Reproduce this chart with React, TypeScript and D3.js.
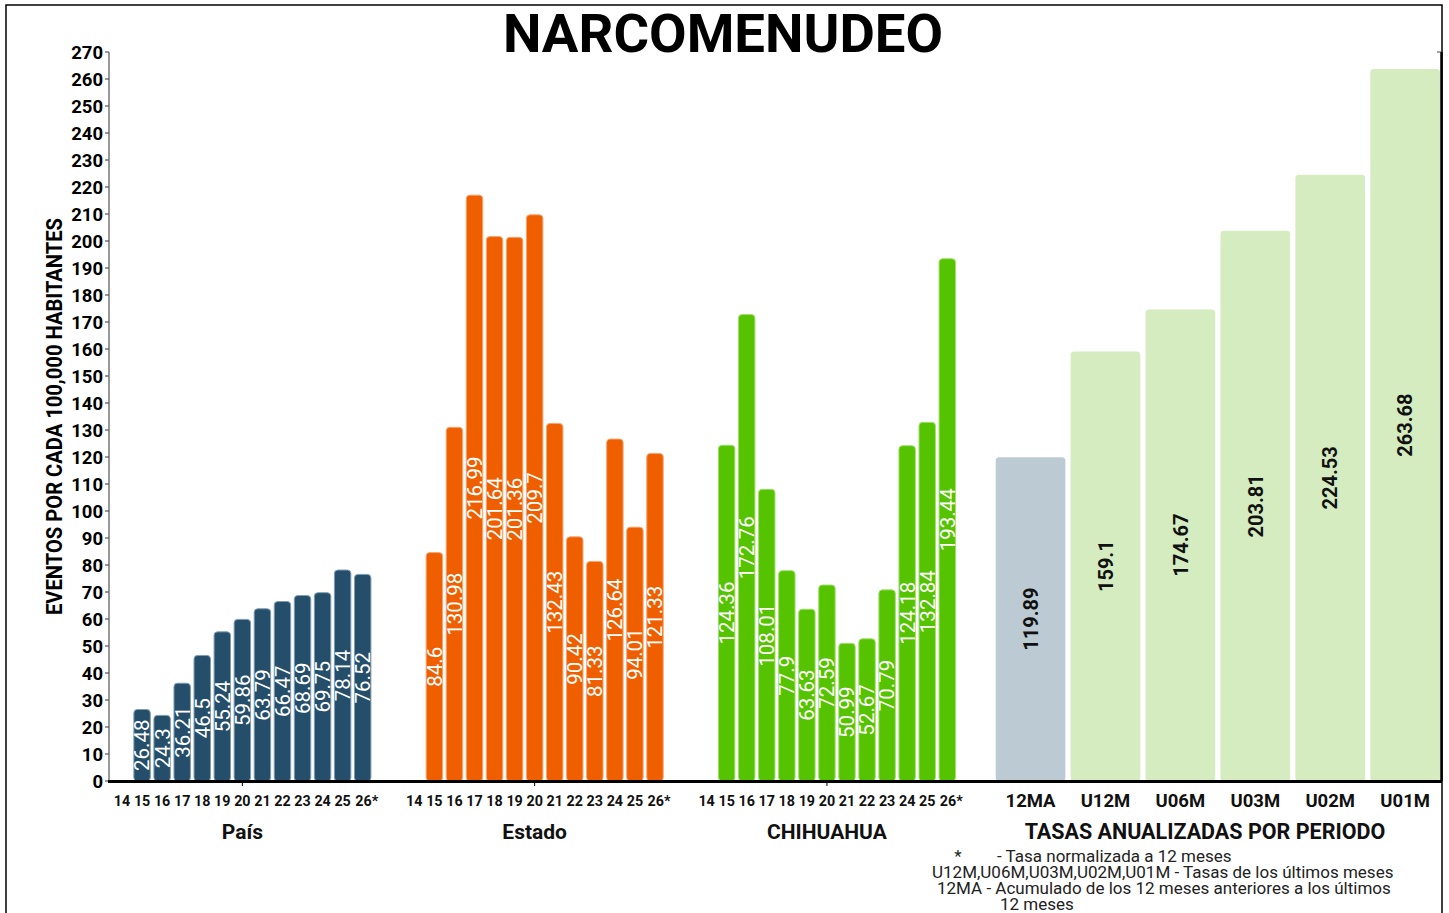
import React from "react";
import * as d3 from "d3";

const tickYears = ["14", "15", "16", "17", "18", "19", "20", "21", "22", "23", "24", "25", "26*"];
const barYears = ["15", "16", "17", "18", "19", "20", "21", "22", "23", "24", "25", "26*"];
const groups = ["País", "Estado", "CHIHUAHUA"];
const paisValues = [26.48, 24.3, 36.21, 46.5, 55.24, 59.86, 63.79, 66.47, 68.69, 69.75, 78.14, 76.52];
const estadoValues = [84.6, 130.98, 216.99, 201.64, 201.36, 209.7, 132.43, 90.42, 81.33, 126.64, 94.01, 121.33];
const chihuahuaValues = [124.36, 172.76, 108.01, 77.9, 63.63, 72.59, 50.99, 52.67, 70.79, 124.18, 132.84, 193.44];
const periodLabels = ["12MA", "U12M", "U06M", "U03M", "U02M", "U01M"];
const periodValues = [119.89, 159.1, 174.67, 203.81, 224.53, 263.68];
const yTicks = d3.range(0, 271, 10);

const groupColors = ["#254e6a", "#ef5f00", "#55c300"];
const groupStrokes = ["#7f9db3", "#f9a46d", "#a2e06c"];
const periodColors = ["#bccad3", "#d5ebc0", "#d5ebc0", "#d5ebc0", "#d5ebc0", "#d5ebc0"];

const W = 1449;
const H = 913;
const FONT = "Roboto, 'Liberation Sans', Arial, sans-serif";

export default function App() {
  const y = d3.scaleLinear().domain([0, 270]).range([781, 52]);
  const gx = d3.scaleBand<string>().domain(groups).range([112, 957.3]).paddingInner(0.108).paddingOuter(0);
  const inner = d3.scaleBand<string>().domain(tickYears).range([0, gx.bandwidth()]).paddingInner(0.18).paddingOuter(0.09);
  const px = d3.scaleBand<string>().domain(periodLabels).range([995.7, 1440]).paddingInner(0.07).paddingOuter(0);
  const series = [paisValues, estadoValues, chihuahuaValues];

  const labelX = (g: string, yr: string) => (gx(g) as number) + (inner(yr) as number) + inner.bandwidth() / 2;

  return (
    <svg width={W} height={H} style={{ position: "absolute", left: 0, top: 0, background: "#fff" }} fontFamily={FONT}>
      <rect x={6} y={5} width={1436} height={930} fill="none" stroke="#000" strokeWidth={1.5} />
      <text x={723} y={52} textAnchor="middle" fontSize={54.5} fontWeight={700} fill="#000">NARCOMENUDEO</text>

      {/* left axis */}
      <line x1={109} x2={109} y1={y(270)} y2={y(0)} stroke="#555" strokeWidth={1.2} />
      {yTicks.map((t) => (
        <g key={t}>
          <line x1={105} x2={109} y1={y(t)} y2={y(t)} stroke="#555" strokeWidth={1.2} />
          <text x={103} y={y(t)} dy="0.36em" textAnchor="end" fontSize={18.5} fontWeight={700} fill="#000">{t}</text>
        </g>
      ))}
      {/* right axis */}
      <line x1={1441.5} x2={1441.5} y1={y(270)} y2={y(0)} stroke="#000" strokeWidth={2.5} />
      {yTicks.map((t) => (
        <line key={"r" + t} x1={1437} x2={1441} y1={y(t)} y2={y(t)} stroke="#444" strokeWidth={1} />
      ))}
      <text
        transform={`translate(62,416.5) rotate(-90)`}
        textAnchor="middle"
        fontSize={22}
        fontWeight={700}
        fill="#000"
        textLength={397}
        lengthAdjust="spacingAndGlyphs"
      >
        EVENTOS POR CADA 100,000 HABITANTES
      </text>

      {/* group bars */}
      {groups.map((g, gi) => (
        <g key={g}>
          {series[gi].map((v, i) => {
            const yr = barYears[i];
            const x = (gx(g) as number) + (inner(yr) as number);
            const cx = x + inner.bandwidth() / 2;
            const mid = (y(v) + y(0)) / 2;
            return (
              <g key={yr}>
                <rect x={x} y={y(v)} width={inner.bandwidth()} height={y(0) - y(v)} rx={3.5} fill={groupColors[gi]} stroke={groupStrokes[gi]} strokeWidth={1} />
                <text transform={`translate(${cx},${mid}) rotate(-90)`} textAnchor="middle" dy="0.36em" fontSize={20.5} fill="#fff">{v}</text>
              </g>
            );
          })}
          {tickYears.map((yr) => (
            <text key={yr} x={labelX(g, yr)} dx={yr.endsWith("*") ? 4 : 0} y={806} textAnchor="middle" fontSize={14.3} fontWeight={700} fill="#111">{yr}</text>
          ))}
          <line x1={(gx(g) as number) + gx.bandwidth() / 2} x2={(gx(g) as number) + gx.bandwidth() / 2} y1={781} y2={786} stroke="#000" strokeWidth={1} />
          <text x={(gx(g) as number) + gx.bandwidth() / 2} y={839} textAnchor="middle" fontSize={21} fontWeight={700} fill="#111">{g}</text>
        </g>
      ))}

      {/* period bars */}
      {periodLabels.map((p, i) => {
        const x = px(p) as number;
        const v = periodValues[i];
        const cx = x + px.bandwidth() / 2;
        const mid = (y(v) + y(0)) / 2;
        return (
          <g key={p}>
            <rect x={x} y={y(v)} width={px.bandwidth()} height={y(0) - y(v)} rx={3.5} fill={periodColors[i]} />
            <text transform={`translate(${cx},${mid}) rotate(-90)`} textAnchor="middle" dy="0.36em" fontSize={20} fontWeight={700} fill="#111">{v}</text>
            <text x={cx} y={807} textAnchor="middle" fontSize={18.5} fontWeight={700} fill="#111">{p}</text>
          </g>
        );
      })}
      <text x={1205} y={839} textAnchor="middle" fontSize={21.5} fontWeight={700} fill="#111">TASAS ANUALIZADAS POR PERIODO</text>

      {/* x axis */}
      <line x1={108} x2={1442} y1={781.5} y2={781.5} stroke="#000" strokeWidth={2.8} />

      {/* notes */}
      <g fontSize={17} fill="#222">
        <text x={958} y={862} textAnchor="middle">*</text>
        <text x={997} y={862}>- Tasa normalizada a 12 meses</text>
        <text x={932} y={878}>U12M,U06M,U03M,U02M,U01M - Tasas de los últimos meses</text>
        <text x={937} y={894}>12MA  - Acumulado de los 12 meses anteriores a los últimos</text>
        <text x={1000} y={910}>12 meses</text>
      </g>
    </svg>
  );
}
